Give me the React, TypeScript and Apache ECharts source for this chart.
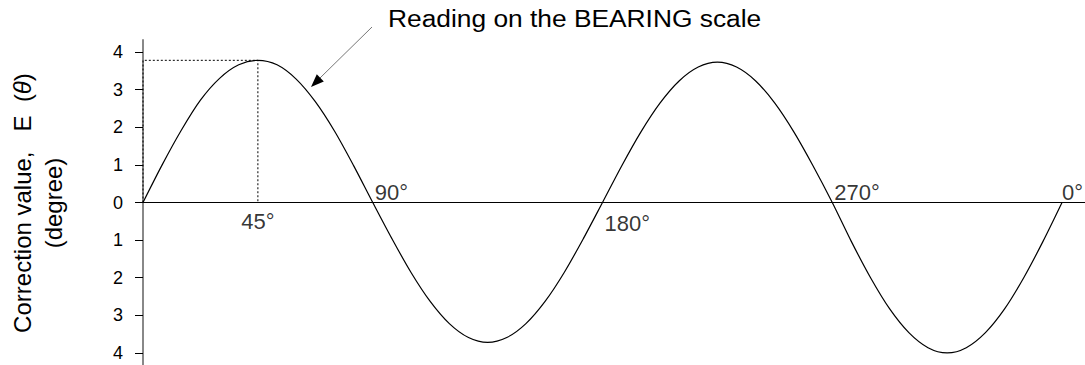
import React, { useEffect, useRef } from "react";
import * as echarts from "echarts";

// Bearing angle (degrees) and correction value
const degrees = [
  0, 7.5, 15, 22.5, 30, 37.5, 45, 52.5, 60, 67.5, 75, 82.5,
  90, 97.5, 105, 112.5, 120, 127.5, 135, 142.5, 150, 157.5, 165, 172.5,
  180, 187.5, 195, 202.5, 210, 217.5, 225, 232.5, 240, 247.5, 255, 262.5,
  270, 277.5, 285, 292.5, 300, 307.5, 315, 322.5, 330, 337.5, 345, 352.5, 360,
];
const correction = [
  0, 1.0, 1.92, 2.72, 3.3, 3.66, 3.78, 3.66, 3.28, 2.68, 1.9, 0.98,
  0, -0.96, -1.86, -2.63, -3.22, -3.59, -3.72, -3.59, -3.22, -2.63, -1.86, -0.96,
  0, 0.97, 1.87, 2.64, 3.23, 3.6, 3.73, 3.6, 3.23, 2.64, 1.87, 0.97,
  0, -1.04, -2.0, -2.83, -3.46, -3.86, -4.0, -3.86, -3.46, -2.83, -2.0, -1.04, 0,
];

// Y tick values (labels show magnitude only)
const yTicks = [-4, -3, -2, -1, 0, 1, 2, 3, 4];

// Dotted guide box to the first peak
const guideAngle = 45;
const guideValue = 3.78;

// Angle annotations on the zero line
const angleLabelAt = [45, 90, 180, 270, 360];
const angleLabels = ["45°", "90°", "180°", "270°", "0°"];
const angleLabelBelow = [true, false, true, false, false];

const annotationText = "Reading on the BEARING scale";
const yName = "Correction value,   E  (";
const yNameTheta = "θ";
const yUnit = "(degree)";

const FONT = "'Liberation Sans', Arial, sans-serif";

export default function App() {
  const ref = useRef<HTMLDivElement>(null);

  useEffect(() => {
    if (!ref.current) return;
    const chart = echarts.init(ref.current, null, { renderer: "svg" });

    const labelData = angleLabelAt.map((a, i) => {
      const below = angleLabelBelow[i];
      const isCenter = a === 45;
      return {
        value: [a, 0],
        label: {
          show: true,
          formatter: angleLabels[i],
          position: isCenter ? [0, 8] : below ? [2, 10] : a === 360 ? [0, 1] : [2, 1],
          align: isCenter ? "center" : "left",
          verticalAlign: below ? "top" : "bottom",
        },
      };
    });

    chart.setOption({
      animation: false,
      backgroundColor: "#fff",
      grid: { left: 143, right: 0, top: 40, bottom: 0, containLabel: false },
      xAxis: {
        type: "value",
        min: 0,
        max: 369,
        axisLine: { show: true, onZero: true, lineStyle: { color: "#000", width: 1 } },
        axisTick: { show: false },
        axisLabel: { show: false },
        splitLine: { show: false },
      },
      yAxis: [
        {
          type: "value",
          min: -4.32,
          max: 4.32,
          offset: 3,
          axisLine: { show: false },
          axisTick: { show: true, length: 8, customValues: yTicks, lineStyle: { color: "#000", width: 1 } },
          axisLabel: {
            show: true,
            customValues: yTicks,
            margin: 17,
            fontSize: 18,
            fontFamily: FONT,
            color: "#000",
            formatter: (v: number) => String(Math.abs(Math.round(v))),
          },
          splitLine: { show: false },
        },
        {
          type: "value",
          min: -4.32,
          max: 4.32,
          position: "left",
          offset: 0,
          axisLine: { show: true, lineStyle: { color: "#888", width: 2 } },
          axisTick: { show: false },
          axisLabel: { show: false },
          splitLine: { show: false },
        },
      ],
      series: [
        {
          type: "line",
          data: degrees.map((d, i) => [d, correction[i]]),
          smooth: 0.3,
          showSymbol: false,
          lineStyle: { color: "#000", width: 1.2 },
          z: 3,
        },
        {
          type: "line",
          data: [
            [0, 0],
            [0, guideValue],
            [guideAngle, guideValue],
            [guideAngle, 0],
          ],
          showSymbol: false,
          lineStyle: { color: "#000", width: 1, type: [2, 2] },
          z: 4,
        },
        {
          type: "scatter",
          symbolSize: 0,
          data: labelData,
          label: { show: true, fontSize: 22, fontFamily: FONT, color: "#000" },
          z: 5,
        },
      ],
      graphic: [
        {
          type: "text",
          x: 38,
          y: 203,
          rotation: Math.PI / 2,
          style: {
            text: `{a|${yName}}{b|${yNameTheta}}{a|)}\n{a|${yUnit}}`,
            align: "center",
            verticalAlign: "middle",
            fill: "#000",
            rich: {
              a: { fontSize: 24, fontFamily: FONT, lineHeight: 31, fill: "#000" },
              b: { fontSize: 24, fontFamily: FONT, fontStyle: "italic", lineHeight: 31, fill: "#000" },
            },
          },
        },
        {
          type: "text",
          x: 388,
          y: 8,
          scaleX: 1.145,
          style: {
            text: annotationText,
            fontSize: 23,
            fontFamily: FONT,
            fill: "#000",
            align: "left",
            verticalAlign: "top",
          },
        },
        {
          type: "line",
          shape: { x1: 372, y1: 27, x2: 320, y2: 78 },
          style: { stroke: "#777", lineWidth: 1 },
        },
        {
          type: "polygon",
          shape: { points: [[311, 87], [323.8, 81.5], [316.8, 74.3]] },
          style: { fill: "#000" },
        },
      ],
    });

    return () => chart.dispose();
  }, []);

  return (
    <div
      ref={ref}
      style={{ position: "fixed", left: 0, top: 0, width: 1085, height: 365, background: "#fff" }}
    />
  );
}
